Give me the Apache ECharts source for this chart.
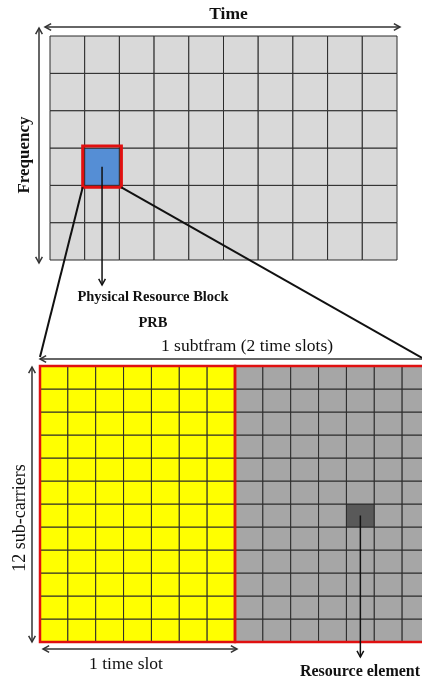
<!DOCTYPE html>
<html>
<head>
<meta charset="utf-8">
<script src="https://cdn.jsdelivr.net/npm/echarts@6/dist/echarts.min.js"></script>
<style>
html, body { margin: 0; padding: 0; background: #fff; }
#main { width: 422px; height: 681px; }
</style>
</head>
<body>
<div id="main"></div>
<script>
// top grid: time x frequency resource grid
var prbCols = 10;
var prbRows = 6;
var prbCell = [1, 2];          // highlighted PRB (column, row from bottom)
// bottom grid: one subframe = 2 slots x 7 symbols, 12 sub-carriers
var reCols = 14;
var reRows = 12;
var slotCols = 7;
var reCell = [11, 5];          // highlighted resource element
// texts
var txtTime = 'Time';
var txtFreq = 'Frequency';
var txtPrbName = 'Physical Resource Block';
var txtPrb = 'PRB';
var txtSubframe = '1 subtfram (2 time slots)';
var txtSub = '12 sub-carriers';
var txtSlot = '1 time slot';
var txtRe = 'Resource element';

var FONT = "'Liberation Serif', 'Times New Roman', serif";

// build cell tables
var prbData = [];
for (var c = 0; c < prbCols; c++) {
	for (var r = 0; r < prbRows; r++) {
		prbData.push([c, r, (c == prbCell[0] && r == prbCell[1]) ? 1 : 0]);
	}
}
var reData = [];
for (var c = 0; c < reCols; c++) {
	for (var r = 0; r < reRows; r++) {
		var t = c < slotCols ? 0 : 1;
		if (c == reCell[0] && r == reCell[1]) t = 2;
		reData.push([c, r, t]);
	}
}

var prbColors = ['#d9d9d9', '#558ed5'];
var reColors = ['#ffff00', '#a6a6a6', '#595959'];

function cellRender(colors) {
	return function (params, api) {
		var p0 = api.coord([api.value(0), api.value(1)]);
		var p1 = api.coord([api.value(0) + 1, api.value(1) + 1]);
		return {
			type: 'rect',
			shape: { x: p0[0], y: p1[1], width: p1[0] - p0[0], height: p0[1] - p1[1] },
			style: { fill: colors[api.value(2)], stroke: '#2b2b2b', lineWidth: 1 }
		};
	};
}

function outlineRender(pad, lw) {
	return function (params, api) {
		var p0 = api.coord([api.value(0), api.value(1)]);
		var p1 = api.coord([api.value(0) + api.value(2), api.value(1) + api.value(3)]);
		return {
			type: 'rect',
			shape: { x: p0[0] - pad, y: p1[1] - pad, width: p1[0] - p0[0] + 2 * pad, height: p0[1] - p1[1] + 2 * pad },
			style: { fill: 'none', stroke: '#e01010', lineWidth: lw }
		};
	};
}

var chart = echarts.init(document.getElementById('main'));

var option = {
	backgroundColor: '#fff',
	animation: false,
	grid: [
		{ left: 50, top: 36, width: 347, height: 224, outerBoundsMode: 'none' },
		{ left: 40, top: 366, width: 390, height: 276, outerBoundsMode: 'none' }
	],
	xAxis: [
		{ gridIndex: 0, type: 'value', min: 0, max: prbCols, show: false },
		{ gridIndex: 1, type: 'value', min: 0, max: reCols, show: false }
	],
	yAxis: [
		{ gridIndex: 0, type: 'value', min: 0, max: prbRows, show: false },
		{ gridIndex: 1, type: 'value', min: 0, max: reRows, show: false }
	],
	series: [
		{ type: 'custom', xAxisIndex: 0, yAxisIndex: 0, data: prbData, renderItem: cellRender(prbColors), silent: true },
		{ type: 'custom', xAxisIndex: 0, yAxisIndex: 0, data: [[prbCell[0], prbCell[1], 1, 1]], renderItem: outlineRender(2, 3), silent: true, clip: false },
		{ type: 'custom', xAxisIndex: 1, yAxisIndex: 1, data: reData, renderItem: cellRender(reColors), silent: true },
		{ type: 'custom', xAxisIndex: 1, yAxisIndex: 1, data: [[0, 0, slotCols, reRows], [slotCols, 0, reCols - slotCols, reRows]], renderItem: outlineRender(0, 2.5), silent: true, clip: false }
	]
};
chart.setOption(option);

// annotation arrows and labels placed from the grid positions
function px(g, pt) { return chart.convertToPixel({ gridIndex: g }, pt); }

function head(x, y, ang, col, lw) {
	var L = 7, a = 0.5;
	return {
		type: 'polyline', z: 100,
		shape: { points: [[x - L * Math.cos(ang - a), y - L * Math.sin(ang - a)], [x, y], [x - L * Math.cos(ang + a), y - L * Math.sin(ang + a)]] },
		style: { stroke: col, lineWidth: lw, fill: null },
		silent: true
	};
}
function seg(x1, y1, x2, y2, col, lw) {
	return { type: 'line', z: 100, shape: { x1: x1, y1: y1, x2: x2, y2: y2 }, style: { stroke: col, lineWidth: lw }, silent: true };
}
function arrow(x1, y1, x2, y2, both, col, lw) {
	col = col || '#333';
	lw = lw || 1.5;
	var ang = Math.atan2(y2 - y1, x2 - x1);
	var els = [seg(x1, y1, x2, y2, col, lw)];
	els.push(head(x2, y2, ang, col, lw));
	if (both) els.push(head(x1, y1, ang + Math.PI, col, lw));
	return els;
}
function label(text, x, y, size, bold, rot) {
	return {
		type: 'text', x: x, y: y, z: 100, rotation: rot || 0, silent: true,
		style: { text: text, fill: '#111', font: (bold ? 'bold ' : '') + size + 'px ' + FONT, align: 'center', verticalAlign: 'middle' }
	};
}

var a0 = px(0, [0, prbRows]), a1 = px(0, [prbCols, 0]);
var b0 = px(1, [0, reRows]), b1 = px(1, [reCols, 0]);
var blue = px(0, [prbCell[0] + 0.5, prbCell[1] + 0.5]);
var boxBL = px(0, [prbCell[0], prbCell[1]]), boxTR = px(0, [prbCell[0] + 1, prbCell[1] + 1]);
var re = px(1, [reCell[0] + 0.5, reCell[1] + 0.5]);
var slotEnd = px(1, [slotCols, 0]);

var els = [];
// time / frequency
els = els.concat(arrow(a0[0] - 5, a0[1] - 9, a1[0] + 3, a0[1] - 9, true));
els.push(label(txtTime, (a0[0] + a1[0]) / 2 + 5, 14, 17.5, true));
els = els.concat(arrow(a0[0] - 11, a0[1] - 8, a0[0] - 11, a1[1] + 3, true));
els.push(label(txtFreq, 25, 155, 17, true, Math.PI / 2));
// PRB pointer
els = els.concat(arrow(blue[0], blue[1], blue[0], 285, false, '#111', 1.5));
els.push(label(txtPrbName, 153, 297, 14.5, true));
els.push(label(txtPrb, 153, 323, 14.5, true));
// zoom lines
els.push(seg(boxBL[0] - 2, boxBL[1] + 2, b0[0], b0[1] - 9, '#111', 2));
els.push(seg(boxTR[0] + 2, boxBL[1] + 2, 424, 359, '#111', 2));
// subframe
els = els.concat(arrow(b0[0], b0[1] - 7, b1[0], b0[1] - 7, true));
els.push(label(txtSubframe, 247, 346, 17.5, false));
// sub-carriers
els = els.concat(arrow(b0[0] - 8, b0[1] + 1, b0[0] - 8, b1[1], true));
els.push(label(txtSub, 20, 518, 18, false, Math.PI / 2));
// time slot
els = els.concat(arrow(b0[0] + 3, b1[1] + 7, slotEnd[0] + 2, b1[1] + 7, true));
els.push(label(txtSlot, 126, 664, 17.5, false));
// resource element pointer
els = els.concat(arrow(re[0], re[1], re[0], 657, false, '#111', 1.5));
els.push(label(txtRe, 360, 672, 16, true));

chart.setOption({ graphic: { elements: els } });
</script>
</body>
</html>
